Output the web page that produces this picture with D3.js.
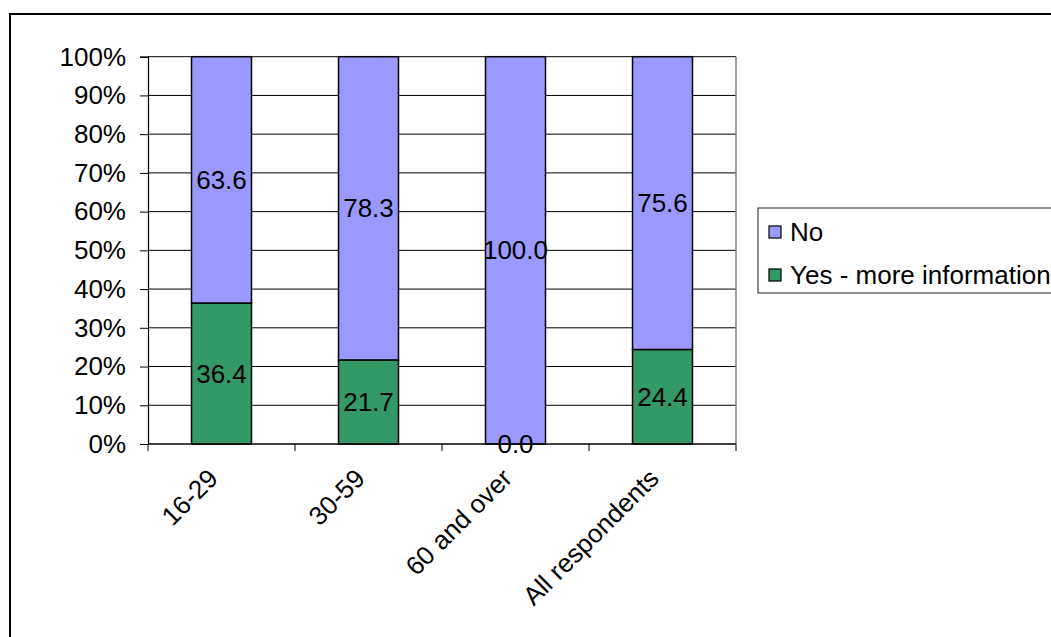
<!DOCTYPE html>
<html>
<head>
<meta charset="utf-8">
<script src="https://cdn.jsdelivr.net/npm/d3@7"></script>
<style>
  body { margin: 0; background: #fff; }
  svg { display: block; font-family: "Liberation Sans", Arial, sans-serif; }
</style>
</head>
<body>
<div id="chart"></div>
<script>
const categories = ["16-29", "30-59", "60 and over", "All respondents"];
const yesValues = [36.4, 21.7, 0.0, 24.4];
const noValues = [63.6, 78.3, 100.0, 75.6];
const seriesNames = ["No", "Yes - more information"];
const yTickValues = [0, 10, 20, 30, 40, 50, 60, 70, 80, 90, 100];

const width = 1051;
const height = 637;
const fontSize = 26;
const colorNo = "#9999ff";
const colorYes = "#339966";

const svg = d3.select("#chart")
  .append("svg")
  .attr("width", width)
  .attr("height", height);

// chart area frame (runs off the right and bottom edges)
svg.append("rect")
  .attr("x", 10)
  .attr("y", 14)
  .attr("width", 1100)
  .attr("height", 700)
  .attr("fill", "#fff")
  .attr("stroke", "#000")
  .attr("stroke-width", 2);

const plot = { left: 148, right: 736, top: 56.7, bottom: 444 };

const x = d3.scaleBand()
  .domain(categories)
  .range([plot.left, plot.right])
  .paddingInner(0.592)
  .paddingOuter(0.296);

const y = d3.scaleLinear()
  .domain([0, 100])
  .range([plot.bottom, plot.top]);

// gridlines
svg.append("g")
  .selectAll("line")
  .data(yTickValues)
  .join("line")
  .attr("x1", plot.left)
  .attr("x2", plot.right)
  .attr("y1", (d) => y(d))
  .attr("y2", (d) => y(d))
  .attr("stroke", "#000")
  .attr("stroke-width", 1);

// right plot border
svg.append("line")
  .attr("x1", plot.right)
  .attr("x2", plot.right)
  .attr("y1", plot.top)
  .attr("y2", plot.bottom)
  .attr("stroke", "#808080")
  .attr("stroke-width", 1.5);

const rows = categories.map((c, i) => ({ cat: c, yes: yesValues[i], no: noValues[i] }));

// stacked bars
const bars = svg.append("g");
bars.selectAll("rect.yes")
  .data(rows)
  .join("rect")
  .attr("class", "yes")
  .attr("x", (d) => x(d.cat))
  .attr("width", x.bandwidth())
  .attr("y", (d) => y(d.yes))
  .attr("height", (d) => y(0) - y(d.yes))
  .attr("fill", colorYes)
  .attr("stroke", "#000")
  .attr("stroke-width", 1.5);

bars.selectAll("rect.no")
  .data(rows)
  .join("rect")
  .attr("class", "no")
  .attr("x", (d) => x(d.cat))
  .attr("width", x.bandwidth())
  .attr("y", (d) => y(d.yes + d.no))
  .attr("height", (d) => y(d.yes) - y(d.yes + d.no))
  .attr("fill", colorNo)
  .attr("stroke", "#000")
  .attr("stroke-width", 1.5);

// y axis
const yAxis = svg.append("g")
  .attr("transform", `translate(${plot.left},0)`)
  .call(d3.axisLeft(y).tickValues(yTickValues).tickSize(8).tickPadding(14).tickFormat((d) => d + "%"));
yAxis.select(".domain").attr("stroke", "#000").attr("stroke-width", 1.2);
yAxis.selectAll(".tick line").attr("stroke", "#000");
yAxis.selectAll("text")
  .attr("font-size", fontSize)
  .attr("font-family", "Liberation Sans, Arial, sans-serif")
  .attr("fill", "#000");

// x axis with ticks at category boundaries
const xAxis = svg.append("g")
  .attr("transform", `translate(0,${plot.bottom})`);
xAxis.append("line")
  .attr("x1", plot.left)
  .attr("x2", plot.right)
  .attr("stroke", "#000")
  .attr("stroke-width", 1.2);
const step = x.step();
xAxis.selectAll("line.tick")
  .data(d3.range(categories.length + 1))
  .join("line")
  .attr("class", "tick")
  .attr("x1", (i) => plot.left + i * step)
  .attr("x2", (i) => plot.left + i * step)
  .attr("y1", 0)
  .attr("y2", 7)
  .attr("stroke", "#000");

xAxis.selectAll("text")
  .data(categories)
  .join("text")
  .attr("transform", (d) => `translate(${x(d) + x.bandwidth() / 2 - 2},36) rotate(-45)`)
  .attr("text-anchor", "end")
  .attr("font-size", fontSize)
  .attr("fill", "#000")
  .text((d) => d);

// value labels
const labels = svg.append("g")
  .attr("font-size", fontSize)
  .attr("text-anchor", "middle")
  .attr("fill", "#000");
labels.selectAll("text.yes")
  .data(rows)
  .join("text")
  .attr("class", "yes")
  .attr("x", (d) => x(d.cat) + x.bandwidth() / 2)
  .attr("y", (d) => (y(0) + y(d.yes)) / 2)
  .attr("dy", "0.35em")
  .text((d) => d.yes.toFixed(1));
labels.selectAll("text.no")
  .data(rows)
  .join("text")
  .attr("class", "no")
  .attr("x", (d) => x(d.cat) + x.bandwidth() / 2)
  .attr("y", (d) => (y(d.yes) + y(d.yes + d.no)) / 2)
  .attr("dy", "0.35em")
  .text((d) => d.no.toFixed(1));

// legend
const legend = svg.append("g").attr("transform", "translate(758,208)");
legend.append("rect")
  .attr("width", 400)
  .attr("height", 85)
  .attr("fill", "#fff")
  .attr("stroke", "#444")
  .attr("stroke-width", 1.2);
const legendItems = legend.selectAll("g.item")
  .data(seriesNames)
  .join("g")
  .attr("class", "item")
  .attr("transform", (d, i) => `translate(11,${18 + i * 43})`);
legendItems.append("rect")
  .attr("width", 12)
  .attr("height", 12)
  .attr("fill", (d, i) => (i === 0 ? colorNo : colorYes))
  .attr("stroke", "#000")
  .attr("stroke-width", 1.2);
legendItems.append("text")
  .attr("x", 21)
  .attr("y", 6)
  .attr("dy", "0.35em")
  .attr("font-size", fontSize)
  .attr("fill", "#000")
  .text((d) => d);
</script>
</body>
</html>
